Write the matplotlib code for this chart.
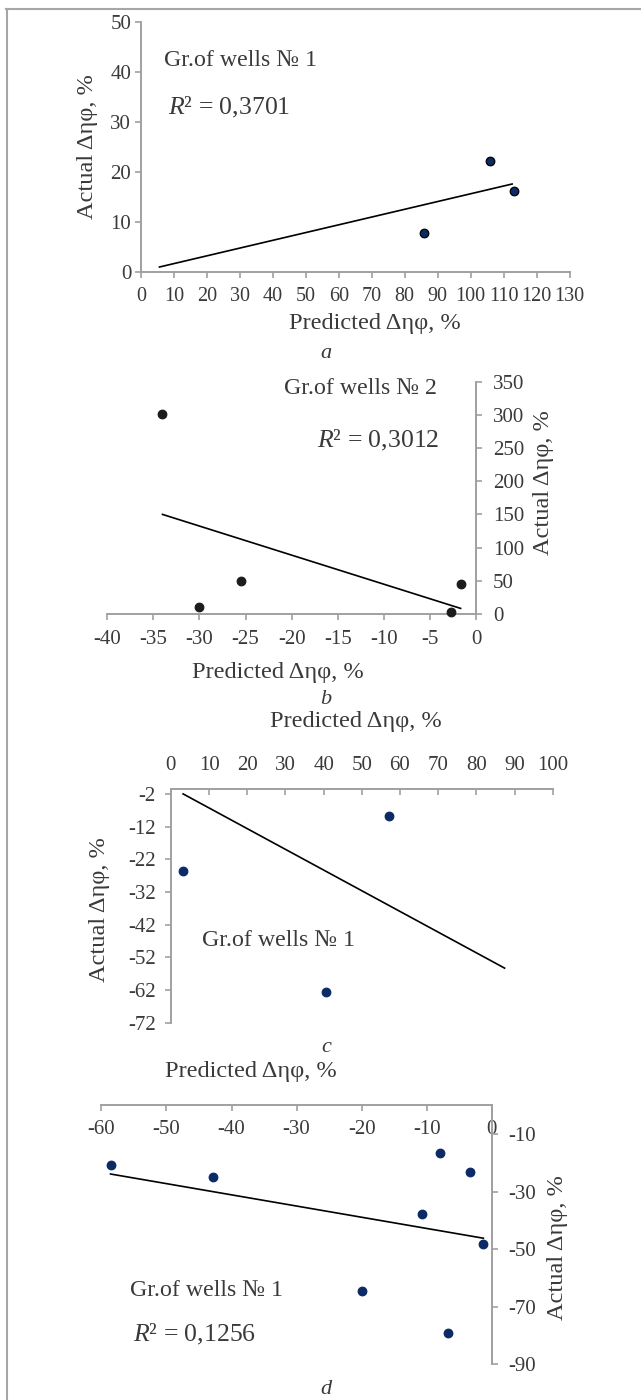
import matplotlib
matplotlib.use("Agg")
import matplotlib.pyplot as plt
from matplotlib.lines import Line2D

plt.rcParams["font.family"] = ["Liberation Serif", "DejaVu Serif"]
plt.rcParams["axes.unicode_minus"] = False
plt.rcParams["mathtext.fontset"] = "custom"
plt.rcParams["mathtext.it"] = "Liberation Serif:italic"
plt.rcParams["mathtext.rm"] = "Liberation Serif"

W, H = 641, 1400

# ── Data ─────────────────────────────────────────────────────────────

# a) group of wells 1
a_pred = [86.0, 106.0, 113.1]
a_act = [7.8, 22.3, 16.3]
a_trend_x = [5.6, 112.6]
a_trend_y = [1.0, 17.6]
a_xticks = list(range(0, 131, 10))
a_yticks = list(range(0, 51, 10))

# b) group of wells 2
b_pred = [-34.0, -30.0, -25.5, -2.7, -1.7]
b_act = [302, 10, 49, 3, 45]
b_trend_x = [-34.0, -1.7]
b_trend_y = [150, 8]
b_xticks = list(range(-40, 1, 5))
b_yticks = list(range(0, 351, 50))

# c) group of wells 1
c_pred = [3.2, 57.2, 40.5]
c_act = [-25.5, -8.9, -62.6]
c_trend_x = [3.2, 87.4]
c_trend_y = [-2.0, -55.3]
c_xticks = list(range(0, 101, 10))
c_yticks = list(range(-72, -1, 10))

# d) group of wells 1
d_pred = [-58.6, -42.85, -7.9, -3.3, -10.7, -1.3, -20.0, -6.7]
d_act = [-20.9, -24.8, -16.5, -23.3, -37.9, -48.3, -64.5, -79.1]
d_trend_x = [-58.6, -1.3]
d_trend_y = [-23.9, -46.2]
d_xticks = list(range(-60, 1, 10))
d_yticks = list(range(-90, -9, 20))

XLABEL = "Predicted Δηφ, %"
YLABEL = "Actual Δηφ, %"

AXIS_GREY = "#a0a0a0"
TEXT = "#3a3a3a"
NAVY = "#0b2a66"
LABEL_SIZE = 17.6
NOTE_SIZE = 17.2
R2_SIZE = 18.5
TICK_SIZE = 15


def px_rect(left, top, right, bottom):
    return [left / W, 1 - bottom / H, (right - left) / W, (bottom - top) / H]


def put(fig, x, y, s, size=LABEL_SIZE, rot=0, style="normal"):
    fig.text(x / W, 1 - y / H, s, ha="center", va="center", fontsize=size,
             rotation=rot, style=style, color=TEXT)


def style_axes(ax, visible):
    for name, sp in ax.spines.items():
        sp.set_visible(name in visible)
        sp.set_color(AXIS_GREY)
        sp.set_linewidth(1.4)
    ax.tick_params(colors=AXIS_GREY, labelcolor=TEXT, labelsize=TICK_SIZE,
                   length=4, width=1.2)
    ax.patch.set_alpha(0)


def draw(ax, px, py, tx, ty, color, edge):
    ax.plot(tx, ty, color="black", lw=1.2, zorder=2, clip_on=False)
    ax.scatter(px, py, s=38, color=color, edgecolors=edge, linewidths=0.9,
               zorder=3, clip_on=False)


fig = plt.figure(figsize=(W / 100, H / 100), dpi=100)

# outer frame (top and left edges)
fig.add_artist(Line2D([6 / W, 1], [1 - 8.5 / H] * 2, color="#a6a6a6", lw=1.5))
fig.add_artist(Line2D([6.5 / W] * 2, [0, 1 - 8.5 / H], color="#a6a6a6", lw=1.5))

# ── a ──
ax = fig.add_axes(px_rect(141, 22, 569.5, 272))
style_axes(ax, ["left", "bottom"])
ax.set_xlim(0, 130)
ax.set_ylim(0, 50)
ax.set_xticks(a_xticks)
ax.set_yticks(a_yticks)
ax.tick_params(axis="x", pad=7, labelsize=14.5)
ax.tick_params(axis="y", pad=3)
draw(ax, a_pred, a_act, a_trend_x, a_trend_y, NAVY, "black")
put(fig, 88, 147, YLABEL, rot=90)
put(fig, 375, 323, XLABEL)
put(fig, 241, 61, "Gr.of wells № 1", size=NOTE_SIZE)
put(fig, 229, 107, r"$R$² = 0,3701", size=R2_SIZE)
put(fig, 326, 354, "a", size=16, style="italic")

# ── b ──
ax = fig.add_axes(px_rect(107.1, 382, 476.3, 613.7))
style_axes(ax, ["right", "bottom"])
ax.set_xlim(-40, 0)
ax.set_ylim(0, 350)
ax.set_xticks(b_xticks)
ax.set_yticks(b_yticks)
ax.yaxis.tick_right()
ax.tick_params(axis="x", pad=8)
ax.tick_params(axis="y", pad=8)
draw(ax, b_pred, b_act, b_trend_x, b_trend_y, "#1c1c1c", "#1c1c1c")
put(fig, 544, 483, YLABEL, rot=90)
put(fig, 278, 673, XLABEL)
put(fig, 360, 389, "Gr.of wells № 2", size=NOTE_SIZE)
put(fig, 378, 440, r"$R$² = 0,3012", size=R2_SIZE)
put(fig, 326, 699, "b", size=16, style="italic")

# ── c ──
ax = fig.add_axes(px_rect(170.9, 789, 552.7, 1022.7))
style_axes(ax, ["left", "top"])
ax.set_xlim(0, 100)
ax.set_ylim(-72, -0.5)
ax.set_xticks(c_xticks)
ax.set_yticks(c_yticks)
ax.xaxis.tick_top()
ax.tick_params(axis="x", direction="in", pad=10)
ax.tick_params(axis="y", pad=7)
draw(ax, c_pred, c_act, c_trend_x, c_trend_y, NAVY, NAVY)
put(fig, 356, 722, XLABEL)
put(fig, 100, 910, YLABEL, rot=90)
put(fig, 278, 941, "Gr.of wells № 1", size=NOTE_SIZE)
put(fig, 326, 1048, "c", size=16, style="italic")

# ── d ──
ax = fig.add_axes(px_rect(101.4, 1105.2, 491.8, 1364.3))
style_axes(ax, ["right", "bottom"])
ax.set_xlim(-60, 0)
ax.set_ylim(-90, 0)
ax.spines["bottom"].set_position(("data", 0))
ax.set_xticks(d_xticks)
ax.set_yticks(d_yticks)
ax.yaxis.tick_right()
ax.tick_params(axis="x", pad=7)
ax.tick_params(axis="y", pad=8)
draw(ax, d_pred, d_act, d_trend_x, d_trend_y, NAVY, NAVY)
put(fig, 251, 1071, XLABEL)
put(fig, 558, 1248, YLABEL, rot=90)
put(fig, 206, 1290, "Gr.of wells № 1", size=NOTE_SIZE)
put(fig, 195, 1334, r"$R$² = 0,1256", size=R2_SIZE)
put(fig, 326, 1390, "d", size=16, style="italic")

fig.savefig("out.png", dpi=100, facecolor="white")
